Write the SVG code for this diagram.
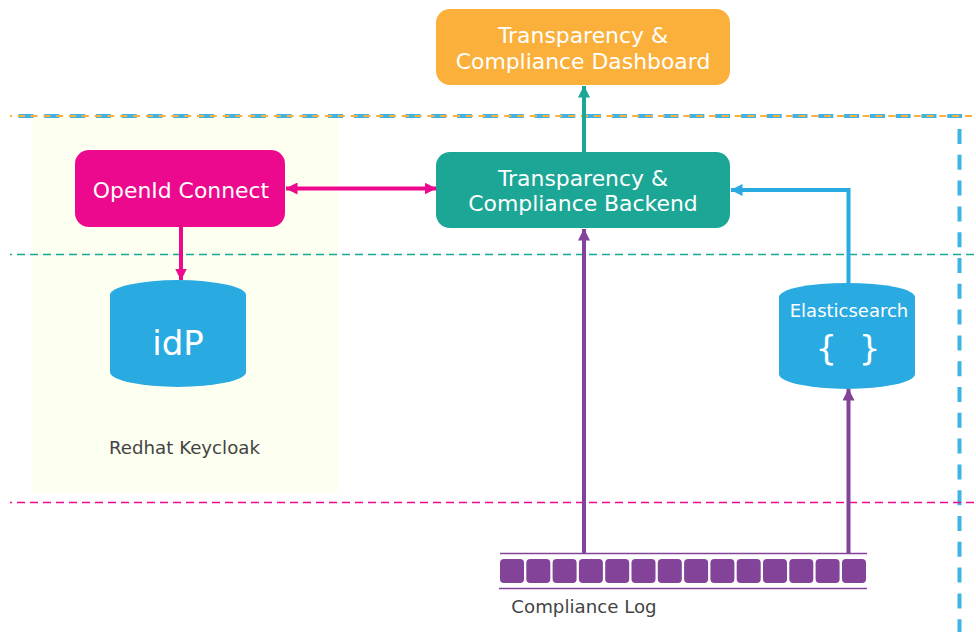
<svg xmlns="http://www.w3.org/2000/svg" width="976" height="632" viewBox="0 0 976 632">
<style>
text{font-family:"DejaVu Sans",sans-serif;text-anchor:middle}
.w{fill:#fff}
.d{fill:#444;font-size:18.200px}
.b{font-size:21.900px}
.cell{fill:#824399}
.zone{fill:none}
.c{fill:none;stroke-width:4}
</style>
<defs>
<marker id="mp" markerUnits="userSpaceOnUse" markerWidth="12" markerHeight="12" refX="11.500" refY="6" orient="auto-start-reverse"><path d="M0 0L12 6L0 12Z" fill="#ec098d"/></marker>
<marker id="mt" markerUnits="userSpaceOnUse" markerWidth="12" markerHeight="12" refX="11.500" refY="6" orient="auto"><path d="M0 0L12 6L0 12Z" fill="#1ba696"/></marker>
<marker id="mb" markerUnits="userSpaceOnUse" markerWidth="12" markerHeight="12" refX="11.500" refY="6" orient="auto"><path d="M0 0L12 6L0 12Z" fill="#29abe2"/></marker>
<marker id="mv" markerUnits="userSpaceOnUse" markerWidth="12" markerHeight="12" refX="11.500" refY="6" orient="auto"><path d="M0 0L12 6L0 12Z" fill="#824399"/></marker>
</defs>
<rect x="32" y="117" width="306" height="376" fill="#fdfff0"/>
<g id="zones">
<path class="zone" d="M18.500 116H962M959.500 129V632" stroke="#29abe2" stroke-width="4" stroke-opacity=".9" stroke-dasharray="15 10.800"/>
<path class="zone" d="M10 116H976" stroke="#fbb03b" stroke-width="2" stroke-dasharray="7 5.800" stroke-dashoffset="5"/>
<path class="zone" d="M10 254.500H976" stroke="#1ba696" stroke-width="1.500" stroke-dasharray="8 5" stroke-dashoffset="6"/>
<path class="zone" d="M10 502.500H976" stroke="#ec098d" stroke-width="1.500" stroke-dasharray="8 5" stroke-dashoffset="6"/>
</g>
<g id="connectors">
<path class="c" stroke="#1ba696" d="M584 152V86" marker-end="url(#mt)"/>
<path class="c" stroke="#ec098d" d="M286 188.500H436" marker-start="url(#mp)" marker-end="url(#mp)"/>
<path class="c" stroke="#ec098d" d="M181 227V280" marker-end="url(#mp)"/>
<path class="c" stroke="#29abe2" d="M848.500 283V190H731" marker-end="url(#mb)"/>
<path class="c" stroke="#824399" d="M584 553V229" marker-end="url(#mv)"/>
<path class="c" stroke="#824399" d="M848.500 553V389" marker-end="url(#mv)"/>
</g>
<g id="dashboard">
<rect x="436" y="9" width="294" height="76" rx="14" fill="#fbb03b"/>
<text class="w b" x="583" y="43">Transparency &amp;</text>
<text class="w b" x="583" y="69">Compliance Dashboard</text>
</g>
<g id="backend">
<rect x="436" y="152" width="294" height="76" rx="14" fill="#1ba696"/>
<text class="w b" x="583" y="186">Transparency &amp;</text>
<text class="w b" x="583" y="211">Compliance Backend</text>
</g>
<g id="openid">
<rect x="75" y="150" width="210" height="77" rx="14" fill="#ec098d"/>
<text class="w b" x="181" y="198">OpenId Connect</text>
</g>
<g id="idp">
<path d="M110 295A68 15 0 0 1 246 295V372A68 15 0 0 1 110 372Z" fill="#29abe2"/>
<text class="w" x="178" y="355" font-size="34">idP</text>
</g>
<g id="keycloak"><text class="d" x="184.500" y="454">Redhat Keycloak</text></g>
<g id="elasticsearch">
<path d="M779 297A68 14 0 0 1 915 297V374A68 15 0 0 1 779 374Z" fill="#29abe2"/>
<text class="w" x="849" y="317" font-size="18">Elasticsearch</text>
<text class="w" x="848" y="360" font-size="34" xml:space="preserve">{  }</text>
</g>
<g id="log">
<path d="M500 553.500H867M499 588.500H867" stroke="#824399" stroke-width="1.500" fill="none"/>
<rect class="cell" x="500" y="559" width="24" height="24" rx="4"/>
<rect class="cell" x="526.300" y="559" width="24" height="24" rx="4"/>
<rect class="cell" x="552.600" y="559" width="24" height="24" rx="4"/>
<rect class="cell" x="578.900" y="559" width="24" height="24" rx="4"/>
<rect class="cell" x="605.200" y="559" width="24" height="24" rx="4"/>
<rect class="cell" x="631.500" y="559" width="24" height="24" rx="4"/>
<rect class="cell" x="657.800" y="559" width="24" height="24" rx="4"/>
<rect class="cell" x="684.100" y="559" width="24" height="24" rx="4"/>
<rect class="cell" x="710.400" y="559" width="24" height="24" rx="4"/>
<rect class="cell" x="736.700" y="559" width="24" height="24" rx="4"/>
<rect class="cell" x="763" y="559" width="24" height="24" rx="4"/>
<rect class="cell" x="789.300" y="559" width="24" height="24" rx="4"/>
<rect class="cell" x="815.600" y="559" width="24" height="24" rx="4"/>
<rect class="cell" x="842" y="559" width="24" height="24" rx="4"/>
<text class="d" x="584" y="613">Compliance Log</text>
</g>
</svg>
